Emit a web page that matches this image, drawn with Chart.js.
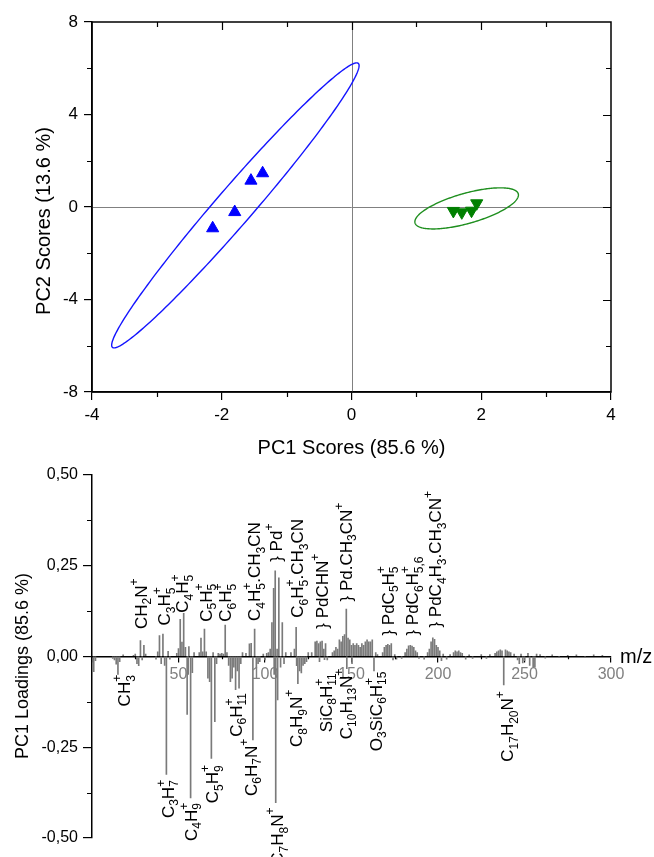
<!DOCTYPE html>
<html>
<head>
<meta charset="utf-8">
<script src="https://cdn.jsdelivr.net/npm/chart.js@4.4.1/dist/chart.umd.min.js"></script>
<style>
  html, body { margin: 0; padding: 0; background: #fff; }
  #wrap { position: relative; width: 654px; height: 857px; }
  #scores { position: absolute; left: 0; top: 0; }
  #loadings { position: absolute; left: 0; top: 460px; }
</style>
</head>
<body>
<div id="wrap">
  <canvas id="scores" width="654" height="460"></canvas>
  <canvas id="loadings" width="654" height="397"></canvas>
</div>
<script>
const FONT = "'Liberation Sans', Arial, sans-serif";

// ---- PC scores (top panel) ----
const groupA_pc1 = [-2.14, -1.80, -1.55, -1.37];
const groupA_pc2 = [-0.92, -0.22, 1.14, 1.46];
const groupB_pc1 = [1.57, 1.70, 1.85, 1.93];
const groupB_pc2 = [-0.17, -0.23, -0.16, 0.16];
// confidence ellipses: centre x,y, semi-axis u (x,y), conjugate semi-axis v (x,y) in data units
const ellipseA = [-1.79, 0.07, 1.89, 6.15, 0.254, -0.394];
const ellipseB = [1.775, -0.06, 0.792, 0.657, 0.099, -0.599];

// ---- PC1 loadings (bottom panel) ----
const massCharge = [
  1, 2, 12, 13, 14, 15, 16, 18, 24, 25, 26, 27, 28, 29, 30, 31, 37, 38, 39, 40,
  41, 42, 43, 44, 45, 49, 50, 51, 52, 53, 54, 55, 55.6, 56, 57, 58, 59, 62, 63, 64,
  65, 66, 67, 68, 69, 70, 71, 72, 73, 74, 75, 76, 77, 78, 79, 80, 81, 82, 83, 84,
  85, 86, 87, 89, 91, 92, 93, 94, 95, 96, 97, 99, 100, 101, 102, 103, 104, 105, 105.3, 105.9,
  106.2, 107, 107.3, 108, 109, 110, 111, 112, 115, 117, 118, 118.3, 119, 120, 121, 122, 123, 124, 125, 127,
  129, 130, 131, 131.5, 132, 133, 134, 134.4, 135, 136, 139, 140, 141, 142, 143, 144, 145, 146, 147, 147.3,
  148, 149, 150, 150.3, 151, 152, 153, 154, 155, 156, 157, 158, 159, 160, 161, 162, 163, 164, 165, 168,
  169, 170, 171, 172, 173, 174, 175, 176, 179, 181, 182, 183, 184, 185, 186, 187, 188, 189, 192, 194,
  195, 196, 197, 198, 199, 200, 201, 202, 203, 205, 207, 209, 210, 211, 212, 213, 214, 216, 218, 220,
  225, 228, 230, 233, 234, 235, 236, 237, 238, 239, 240, 241, 242, 244, 246, 247, 248, 249, 250, 252,
  253, 255, 256, 257, 259, 262, 266, 270, 275, 280, 285, 290, 295
];
const loadings = [
  -0.042, -0.012, -0.006, -0.010, -0.022, -0.050, -0.015, 0.004, 0.003, 0.006, -0.020, -0.026, 0.043, -0.010, 0.030, 0.006, -0.008, 0.012, 0.057, -0.020,
  0.061, -0.025, -0.325, 0.014, -0.008, 0.008, 0.021, 0.102, 0.039, 0.118, 0.025, -0.160, -0.050, 0.027, -0.390, -0.045, 0.010, 0.010, 0.050, 0.012,
  0.075, 0.012, -0.060, -0.070, -0.281, 0.010, -0.180, -0.020, 0.008, 0.006, 0.008, 0.006, 0.086, 0.010, -0.025, -0.070, -0.060, -0.030, -0.092, -0.040,
  -0.088, -0.020, 0.010, 0.008, 0.034, 0.036, -0.230, 0.075, -0.030, -0.020, -0.015, 0.006, -0.010, 0.008, 0.010, 0.020, 0.093, 0.187, -0.050, 0.235,
  -0.403, 0.020, -0.120, 0.216, -0.030, 0.093, -0.020, 0.010, 0.010, 0.020, 0.080, -0.026, -0.075, -0.040, -0.046, -0.025, -0.020, -0.015, 0.010, 0.010,
  0.040, 0.042, 0.035, -0.015, 0.040, 0.042, 0.020, -0.009, 0.035, -0.010, 0.010, 0.015, 0.025, 0.020, 0.045, 0.040, 0.055, 0.060, 0.130, -0.034,
  0.050, 0.045, 0.030, -0.020, 0.035, 0.030, 0.035, 0.030, 0.025, 0.035, 0.030, 0.040, 0.045, 0.040, 0.040, 0.045, -0.040, 0.010, 0.005, 0.010,
  0.025, 0.030, 0.033, 0.030, 0.035, -0.010, 0.005, -0.008, -0.006, 0.010, 0.020, 0.029, 0.030, 0.028, 0.025, 0.015, 0.010, -0.006, -0.008, 0.010,
  0.020, 0.040, 0.051, 0.047, 0.030, 0.025, 0.015, -0.012, 0.006, -0.008, 0.005, 0.010, 0.015, 0.012, 0.015, 0.010, 0.008, -0.008, 0.004, -0.006,
  0.005, -0.006, 0.005, 0.008, 0.012, 0.015, 0.018, 0.015, -0.079, 0.018, 0.015, 0.012, 0.010, 0.006, -0.010, -0.020, 0.006, -0.018, -0.012, 0.008,
  -0.025, -0.030, -0.030, 0.006, 0.005, -0.005, 0.004, -0.004, 0.003, 0.004, -0.004, 0.004, 0.003
];

// peak assignments above the axis (text starts at the given loading and runs upward)
const upperNames = ['CH_{2}N^{+}', 'C_{3}H_{5}^{+}', 'C_{4}H_{5}^{+}', 'C_{5}H_{5}^{+}', 'C_{6}H_{5}^{+}',
  'C_{4}H_{5}^{+}.CH_{3}CN', '} Pd^{+}', 'C_{6}H_{5}^{+}.CH_{3}CN', '} PdCHN^{+}', '} Pd.CH_{3}CN^{+}',
  '} PdC_{5}H_{5}^{+}', '} PdC_{6}H_{5,6}^{+}', '} PdC_{4}H_{3}.CH_{3}CN^{+}'];
const upperMz = [28.3, 41.7, 52.3, 65.8, 76.9, 93.7, 106.2, 118.7, 133.1, 146.6, 171, 185, 198.5];
const upperY = [0.075, 0.085, 0.12, 0.095, 0.095, 0.097, 0.26, 0.106, 0.076, 0.151, 0.057, 0.057, 0.079];

// peak assignments below the axis (text ends at the given loading)
const lowerNames = ['CH_{3}^{+}', 'C_{3}H_{7}^{+}', 'C_{4}H_{9}^{+}', 'C_{5}H_{9}^{+}', 'C_{6}H_{11}^{+}',
  'C_{6}H_{7}N^{+}', 'C_{7}H_{8}N^{+}', 'C_{8}H_{9}N^{+}', 'SiC_{8}H_{11}^{+}', 'C_{10}H_{13}N^{+}',
  'O_{3}SiC_{6}H_{15}^{+}', 'C_{17}H_{20}N^{+}'];
const lowerMz = [18.6, 43.7, 57.1, 69.6, 83.1, 91.7, 107.2, 118.2, 135, 146.6, 163.9, 239.9];
const lowerY = [-0.051, -0.34, -0.403, -0.299, -0.101, -0.227, -0.416, -0.092, -0.047, -0.034, -0.042, -0.096];

// formula text with sub/superscripts, drawn rotated (reads bottom to top)
const MAIN_FONT = `17px ${FONT}`;
const SMALL_FONT = `12px ${FONT}`;

function parseFormula(s) {
  const out = [];
  const re = /([_^])\{([^}]*)\}|([^_^]+)/g;
  let m;
  while ((m = re.exec(s))) {
    if (m[1]) out.push({ t: m[2], k: m[1] === '_' ? 'sub' : 'sup' });
    else out.push({ t: m[3], k: 'main' });
  }
  return out;
}

function drawFormula(ctx, s, px, py, anchor) {
  const items = [];
  let pos = 0, prev = null;
  parseFormula(s).forEach(p => {
    ctx.font = p.k === 'main' ? MAIN_FONT : SMALL_FONT;
    const w = ctx.measureText(p.t).width;
    let x0 = pos;
    if (p.k === 'sup' && prev && prev.k === 'sub') {
      x0 = prev.x;
      pos = Math.max(pos, x0 + w);
    } else {
      pos += w;
    }
    const it = { t: p.t, k: p.k, x: x0 };
    items.push(it);
    prev = it;
  });
  const start = anchor === 'end' ? -pos : 0;
  ctx.save();
  ctx.translate(px, py);
  ctx.rotate(-Math.PI / 2);
  ctx.fillStyle = '#000';
  ctx.textAlign = 'left';
  ctx.textBaseline = 'alphabetic';
  items.forEach(it => {
    ctx.font = it.k === 'main' ? MAIN_FONT : SMALL_FONT;
    const base = it.k === 'main' ? 6 : it.k === 'sub' ? 10.5 : -3;
    ctx.fillText(it.t, start + it.x, base);
  });
  ctx.restore();
}

function drawVerticalTitle(ctx, text, size, cx, cy) {
  ctx.save();
  ctx.translate(cx, cy);
  ctx.rotate(-Math.PI / 2);
  ctx.font = `${size}px ${FONT}`;
  ctx.fillStyle = '#000';
  ctx.textAlign = 'center';
  ctx.textBaseline = 'middle';
  ctx.fillText(text, 0, 0);
  ctx.restore();
}

function drawEllipse(chart, e, color) {
  const { ctx, scales: { x, y } } = chart;
  ctx.save();
  ctx.beginPath();
  for (let k = 0; k <= 240; k++) {
    const t = k / 240 * 2 * Math.PI;
    const px = x.getPixelForValue(e[0] + e[2] * Math.cos(t) + e[4] * Math.sin(t));
    const py = y.getPixelForValue(e[1] + e[3] * Math.cos(t) + e[5] * Math.sin(t));
    k ? ctx.lineTo(px, py) : ctx.moveTo(px, py);
  }
  ctx.closePath();
  ctx.strokeStyle = color;
  ctx.lineWidth = 1.4;
  ctx.stroke();
  ctx.restore();
}

const scoresDecor = {
  id: 'scoresDecor',
  beforeDatasetsDraw(chart) {
    const { ctx, chartArea: a, scales: { x, y } } = chart;
    const x0 = Math.round(x.getPixelForValue(0)) + 0.5;
    const y0 = Math.round(y.getPixelForValue(0)) + 0.5;
    ctx.save();
    ctx.strokeStyle = '#808080';
    ctx.lineWidth = 1;
    ctx.beginPath();
    ctx.moveTo(x0, a.top); ctx.lineTo(x0, a.bottom);
    ctx.moveTo(a.left, y0); ctx.lineTo(a.right, y0);
    ctx.stroke();
    ctx.restore();
  },
  afterDatasetsDraw(chart) {
    drawEllipse(chart, ellipseA, '#1414ff');
    drawEllipse(chart, ellipseB, '#1f8f1f');
  },
  afterDraw(chart) {
    const { ctx, chartArea: a, scales: { x, y } } = chart;
    ctx.save();
    ctx.strokeStyle = '#000';
    ctx.lineWidth = 1.5;
    ctx.strokeRect(a.left, a.top, a.right - a.left, a.bottom - a.top);
    ctx.lineWidth = 1.2;
    ctx.beginPath();
    for (let v = -3; v <= 3; v++) {
      const px = Math.round(x.getPixelForValue(v)) + 0.5;
      const len = v % 2 === 0 ? 8 : 5;
      ctx.moveTo(px, a.top); ctx.lineTo(px, a.top + len);
      if (v % 2 !== 0) { ctx.moveTo(px, a.bottom); ctx.lineTo(px, a.bottom + 5); }
    }
    for (let v = -6; v <= 6; v += 2) {
      const py = Math.round(y.getPixelForValue(v)) + 0.5;
      const len = v % 4 === 0 ? 8 : 5;
      ctx.moveTo(a.right, py); ctx.lineTo(a.right - len, py);
      if (v % 4 !== 0) { ctx.moveTo(a.left, py); ctx.lineTo(a.left - 5, py); }
    }
    ctx.stroke();
    ctx.restore();
    drawVerticalTitle(ctx, 'PC2 Scores (13.6 %)', 20, 44, 221);
  }
};

new Chart(document.getElementById('scores'), {
  type: 'scatter',
  data: {
    datasets: [
      {
        data: groupA_pc1.map((v, i) => ({ x: v, y: groupA_pc2[i] })),
        pointStyle: 'triangle', pointRadius: 7,
        backgroundColor: '#0000ff', borderColor: '#0000ff', borderWidth: 1
      },
      {
        data: groupB_pc1.map((v, i) => ({ x: v, y: groupB_pc2[i] })),
        pointStyle: 'triangle', pointRadius: 7, pointRotation: 180,
        backgroundColor: '#008000', borderColor: '#008000', borderWidth: 1
      }
    ]
  },
  options: {
    responsive: false,
    animation: false,
    layout: { padding: { left: 0, top: 22, right: 43, bottom: 0 } },
    plugins: { legend: { display: false }, tooltip: { enabled: false } },
    scales: {
      x: {
        type: 'linear', min: -4, max: 4,
        ticks: { stepSize: 2, color: '#000', font: { family: FONT, size: 17 }, padding: 5, maxRotation: 0 },
        grid: { drawOnChartArea: false, tickLength: 8, color: '#000', lineWidth: 1.2 },
        border: { color: '#000', width: 1.5 },
        title: { display: true, text: 'PC1 Scores (85.6 %)', color: '#000', font: { family: FONT, size: 20 }, padding: { top: 5, bottom: 0 } },
        afterFit(s) { s.height = 68; }
      },
      y: {
        type: 'linear', min: -8, max: 8,
        ticks: { stepSize: 4, color: '#000', font: { family: FONT, size: 17 }, padding: 6 },
        grid: { drawOnChartArea: false, tickLength: 8, color: '#000', lineWidth: 1.2 },
        border: { color: '#000', width: 1.5 },
        afterFit(s) { s.width = 92; }
      }
    }
  },
  plugins: [scoresDecor]
});

const loadingsDecor = {
  id: 'loadingsDecor',
  afterDraw(chart) {
    const { ctx, chartArea: a, scales: { x, y } } = chart;
    const y0 = y.getPixelForValue(0);
    ctx.save();
    ctx.strokeStyle = '#000';
    ctx.lineWidth = 1.2;
    ctx.beginPath();
    for (let v = -0.375; v < 0.5; v += 0.25) {
      const py = Math.round(y.getPixelForValue(v)) + 0.5;
      ctx.moveTo(a.left, py); ctx.lineTo(a.left - 5, py);
    }
    for (let m = 25; m < 300; m += 50) {
      const px = Math.round(x.getPixelForValue(m)) + 0.5;
      ctx.moveTo(px, y0); ctx.lineTo(px, y0 + 3);
    }
    ctx.stroke();
    ctx.fillStyle = '#000';
    ctx.font = `20px ${FONT}`;
    ctx.textAlign = 'left';
    ctx.textBaseline = 'alphabetic';
    ctx.fillText('m/z', a.right + 9, y0 + 7);
    ctx.restore();

    drawVerticalTitle(ctx, 'PC1 Loadings (85.6 %)', 18, 23, 206);
    upperNames.forEach((s, i) => drawFormula(ctx, s, x.getPixelForValue(upperMz[i]), y.getPixelForValue(upperY[i]), 'start'));
    lowerNames.forEach((s, i) => drawFormula(ctx, s, x.getPixelForValue(lowerMz[i]), y.getPixelForValue(lowerY[i]), 'end'));
  }
};

new Chart(document.getElementById('loadings'), {
  type: 'bar',
  data: {
    datasets: [{
      data: massCharge.map((m, i) => ({ x: m, y: loadings[i] })),
      backgroundColor: '#7a7a7a',
      borderWidth: 0,
      barThickness: 1,
      grouped: false
    }]
  },
  options: {
    responsive: false,
    animation: false,
    layout: { padding: { left: 0, top: 9, right: 43, bottom: 19 } },
    plugins: { legend: { display: false }, tooltip: { enabled: false } },
    scales: {
      x: {
        type: 'linear', min: 0, max: 300, offset: false,
        position: { y: 0 },
        ticks: { stepSize: 50, color: '#808080', font: { family: FONT, size: 16 }, padding: 4, maxRotation: 0,
          callback: v => v === 0 ? '' : v },
        grid: { drawOnChartArea: false, tickLength: 5, color: '#000', lineWidth: 1.2, offset: false },
        border: { color: '#000', width: 1.5 }
      },
      y: {
        type: 'linear', min: -0.5, max: 0.5,
        ticks: { stepSize: 0.25, color: '#000', font: { family: FONT, size: 16 }, padding: 5,
          callback: v => v.toFixed(2).replace('.', ',') },
        grid: { drawOnChartArea: false, tickLength: 9, color: '#000', lineWidth: 1.2 },
        border: { color: '#000', width: 1.5 },
        afterFit(s) { s.width = 92; }
      }
    }
  },
  plugins: [loadingsDecor]
});
</script>
</body>
</html>
